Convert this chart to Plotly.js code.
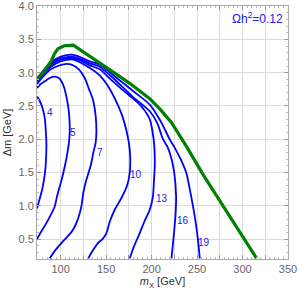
<!DOCTYPE html>
<html><head><meta charset="utf-8">
<script src="https://cdn.plot.ly/plotly-3.0.1.min.js"></script>
<style>html,body{margin:0;padding:0;background:#fff;}#plot{width:300px;height:297px;}</style>
</head><body><div id="plot"></div>
<script>
// Contour data (mX in GeV, Δm in GeV)
const c4_m  = [74,76,78.8,81,82.5,83.8,84.3,84.2,83.5,82.3,80.5,78.5,76,74];
const c4_dm = [2.64,2.6,2.52,2.42,2.32,2.1,1.95,1.8,1.6,1.45,1.3,1.18,1.06,0.96];

const c5_m  = [74,78,82.5,88,93.5,98,100.8,104,106.3,108.2,109.5,110,109.5,108.5,106.5,104.5,102,99,96,93.5,89,84.3,79,74];
const c5_dm = [2.77,2.83,2.87,2.92,2.94,2.92,2.87,2.77,2.64,2.5,2.34,2.15,2.0,1.89,1.72,1.59,1.44,1.29,1.14,0.99,0.86,0.74,0.62,0.5];

const c7_m  = [74,80,88,97,105,112,120,126.5,131,135.6,138.5,139.3,138.5,136,133,128.3,125,122.8,119,113.6,107,100.8,94,88];
const c7_dm = [2.83,2.93,3.04,3.1,3.13,3.12,3.05,2.92,2.76,2.59,2.35,2.1,1.95,1.8,1.6,1.39,1.2,0.99,0.8,0.64,0.53,0.44,0.33,0.21];

const c10_m  = [74,85,95,105,113,122,132,143,152,160,167,172,175,176.5,176,173,167,159.5,154,150.3,146,141,135,130.4];
const c10_dm = [2.87,3.04,3.14,3.19,3.2,3.15,3.07,2.96,2.8,2.6,2.38,2.15,1.95,1.75,1.5,1.3,1.12,0.94,0.76,0.59,0.5,0.44,0.32,0.21];

const c13_m  = [74,85,95,105,113,122,132,143,155,170,185,193,198,201,203,203.5,202.5,201.5,198,192,187,181,176];
const c13_dm = [2.88,3.07,3.17,3.21,3.22,3.18,3.11,3.05,2.9,2.72,2.55,2.42,2.3,2.12,1.9,1.6,1.35,1.14,0.94,0.76,0.59,0.4,0.21];

const c16_m  = [74,85,95,105,113,122,132,143,160,180,198,206,212.6,218,222,225,227,226.5,225,221.9];
const c16_dm = [2.89,3.09,3.19,3.23,3.24,3.2,3.14,3.09,2.89,2.63,2.42,2.25,2.0,1.87,1.7,1.49,1.14,0.9,0.64,0.21];

const c19_m  = [74,85,95,105,113,122,132,143,160,180,198,210,219.9,225.5,232,238.3,242,245.6,248.5,251,253];
const c19_dm = [2.89,3.1,3.21,3.26,3.27,3.23,3.17,3.12,2.94,2.72,2.52,2.27,2.0,1.87,1.7,1.49,1.25,0.99,0.75,0.49,0.21];

const relic_m  = [74,82,90,93,97,104,114,134,154,176,198,210,222,238,257,277,296,315.5];
const relic_dm = [2.905,3.03,3.18,3.28,3.36,3.405,3.415,3.23,3.045,2.84,2.61,2.44,2.25,1.9,1.46,1.04,0.63,0.21];

// contour labels
const labelText = ['4','5','7','10','13','16','19'];
const labelM    = [88,113.3,143,182.6,211.2,234.3,257.4];
const labelDm   = [2.40,2.10,1.80,1.47,1.11,0.78,0.45];

const xTickVals = [75,100,125,150,175,200,225,250,275,300,325,350];
const xTickText = [' ','100',' ','150',' ','200',' ','250',' ','300',' ','350'];
const yTickVals = [0.5,1.0,1.5,2.0,2.5,3.0,3.5,4.0];
const yTickText = ['0.5','1.0','1.5','2.0','2.5','3.0','3.5','4.0'];

const blue = '#0000ff';
const contours = [[c4_m,c4_dm],[c5_m,c5_dm],[c7_m,c7_dm],[c10_m,c10_dm],[c13_m,c13_dm],[c16_m,c16_dm],[c19_m,c19_dm]];
const traces = contours.map(c => ({
  x: c[0], y: c[1], type: 'scatter', mode: 'lines',
  line: {color: blue, width: 1.8, shape: 'spline', smoothing: 0.8},
  hoverinfo: 'skip', showlegend: false
}));
traces.push({
  x: relic_m, y: relic_dm, type: 'scatter', mode: 'lines',
  line: {color: '#008000', width: 3.2},
  hoverinfo: 'skip', showlegend: false
});

const annotations = labelText.map((t,i) => ({
  x: labelM[i], y: labelDm[i], xref: 'x', yref: 'y', text: t, showarrow: false,
  font: {family: 'Liberation Sans, Arial, sans-serif', size: 10, color: '#2222ee'}
}));
annotations.push({
  x: 0.99, y: 0.952, xref: 'paper', yref: 'paper', xanchor: 'right', yanchor: 'middle',
  text: 'Ωh<sup>2</sup>=0.12', showarrow: false,
  font: {family: 'Liberation Sans, Arial, sans-serif', size: 12, color: '#2222ee'}
});

const axisFont = {family: 'Liberation Sans, Arial, sans-serif', size: 11, color: '#666'};
const layout = {
  width: 300, height: 297,
  margin: {l: 37, r: 12, t: 6, b: 38},
  paper_bgcolor: '#fff', plot_bgcolor: '#fff',
  showlegend: false,
  xaxis: {
    range: [74, 350.05], tickmode: 'array', tickvals: xTickVals, ticktext: xTickText,
    ticks: 'inside', ticklen: 4, tickcolor: '#999', mirror: 'ticks',
    showline: true, linecolor: '#aaa', linewidth: 1,
    showgrid: true, gridcolor: '#dcdcdc', gridwidth: 1, zeroline: false,
    minor: {dtick: 5, ticks: 'inside', ticklen: 2, tickcolor: '#bbb', showgrid: false},
    tickfont: axisFont, ticklabeloverflow: 'allow',
    title: {text: '<i>m</i><sub>X</sub> [GeV]', font: {family: 'Liberation Sans, Arial, sans-serif', size: 11, color: '#333'}, standoff: 0}
  },
  yaxis: {
    range: [0.2, 4.002], tickmode: 'array', tickvals: yTickVals, ticktext: yTickText,
    ticks: 'inside', ticklen: 4, tickcolor: '#999', mirror: 'ticks',
    showline: true, linecolor: '#aaa', linewidth: 1,
    showgrid: true, gridcolor: '#dcdcdc', gridwidth: 1, zeroline: false,
    minor: {dtick: 0.1, ticks: 'inside', ticklen: 2, tickcolor: '#bbb', showgrid: false},
    tickfont: axisFont, ticklabeloverflow: 'allow',
    title: {text: 'Δm [GeV]', font: {family: 'Liberation Sans, Arial, sans-serif', size: 11, color: '#333'}, standoff: 4}
  },
  annotations: annotations
};
Plotly.newPlot('plot', traces, layout, {staticPlot: true, displayModeBar: false});
</script></body></html>
